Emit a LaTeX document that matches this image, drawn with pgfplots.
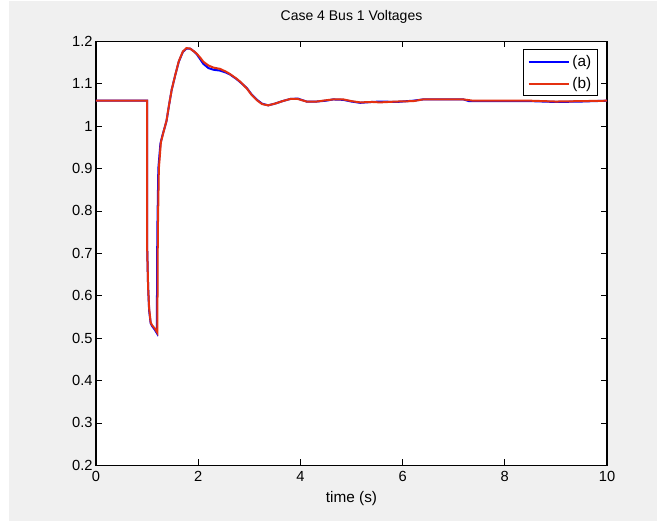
\documentclass[border=0pt]{standalone}
\usepackage{pgfplots}
\pgfplotsset{compat=1.18}
\usepackage{fontspec}
\setmainfont{Liberation Sans}
\definecolor{figbg}{RGB}{240,240,240}
\definecolor{mblue}{RGB}{0,0,255}
\definecolor{mred}{RGB}{228,48,16}
\begin{document}
\begin{tikzpicture}[x=0.75pt,y=0.75pt]
\fill[white] (0,0) rectangle (657,522);
\fill[figbg] (9,1) rectangle (657,521);
\begin{axis}[
  at={(72pt,42.5pt)}, anchor=south west,
  scale only axis, width=383.25pt, height=318pt,
  xmin=0, xmax=10, ymin=0.2, ymax=1.2,
  xtick={0,2,...,10}, ytick={0.2,0.3,...,1.21},
  yticklabels={0.2,0.3,0.4,0.5,0.6,0.7,0.8,0.9,1,1.1,1.2},
  tick align=inside, major tick length=4.5pt,
  tick style={black, line width=0.6pt},
  axis line style={black, line width=1pt},
  axis background/.style={fill=white},
  /pgf/number format/assume math mode=true,
  tick label style={font=\fontsize{11}{13}\selectfont},
  xticklabel style={yshift=-1pt},
  yticklabel style={xshift=1pt},
  title={Case 4 Bus 1 Voltages},
  title style={at={(0.5,1)}, anchor=base, yshift=9.75pt, font=\fontsize{10.5}{12}\selectfont},
  xlabel={time (s)},
  xlabel style={at={(0.5,0)}, anchor=base, yshift=-27.5pt, font=\fontsize{11.5}{13}\selectfont},
  legend style={at={(1,1)}, anchor=north east, xshift=-6.5pt, yshift=-6pt,
    draw=black, line width=0.8pt, fill=white, inner xsep=3pt, inner ysep=2pt,
    font=\fontsize{11.5}{13}\selectfont, row sep=2.5pt},
  legend cell align=left,
  legend image code/.code={\draw[#1, line width=1.5pt] (0pt,0pt) -- (30pt,0pt);},
]
\addplot[mblue, line width=1.5pt] coordinates {
(0,1.06) (1.0,1.06) (1.0,0.72) (1.02,0.62) (1.04,0.565) (1.07,0.535) (1.1,0.528)
(1.15,0.52) (1.19,0.512) (1.2,0.75) (1.22,0.9) (1.26,0.958) (1.3,0.978) (1.38,1.012)
(1.43,1.05) (1.48,1.085) (1.55,1.12) (1.62,1.152) (1.7,1.175) (1.77,1.183) (1.84,1.183)
(1.92,1.176) (1.97,1.17) (2.05,1.156) (2.1,1.147) (2.2,1.137) (2.3,1.133) (2.43,1.131)
(2.55,1.126) (2.62,1.122) (2.75,1.111) (2.82,1.104) (2.95,1.09) (3.05,1.074) (3.15,1.062)
(3.25,1.053) (3.37,1.049) (3.5,1.053) (3.65,1.059) (3.8,1.064) (3.95,1.065) (4.12,1.058)
(4.32,1.058) (4.5,1.060) (4.64,1.063) (4.84,1.062) (5.0,1.058) (5.17,1.055) (5.4,1.057)
(5.56,1.058) (5.88,1.057) (6.21,1.060) (6.4,1.063) (7.19,1.063) (7.3,1.059) (8.5,1.059)
(9.0,1.057) (9.5,1.058) (10,1.06)
};
\addlegendentry{(a)}
\addplot[mred, line width=1.5pt] coordinates {
(0,1.06) (1.0,1.06) (1.0,0.72) (1.02,0.62) (1.04,0.57) (1.07,0.537) (1.1,0.53)
(1.15,0.523) (1.2,0.513) (1.21,0.75) (1.23,0.9) (1.27,0.962) (1.31,0.981) (1.38,1.013)
(1.43,1.05) (1.48,1.085) (1.55,1.12) (1.62,1.153) (1.7,1.176) (1.77,1.184) (1.84,1.183)
(1.92,1.176) (1.97,1.171) (2.05,1.16) (2.1,1.152) (2.2,1.143) (2.3,1.138) (2.43,1.135)
(2.55,1.128) (2.62,1.123) (2.75,1.112) (2.82,1.105) (2.95,1.089) (3.05,1.073) (3.15,1.061)
(3.25,1.052) (3.37,1.049) (3.5,1.053) (3.65,1.059) (3.8,1.064) (3.95,1.064) (4.12,1.058)
(4.32,1.058) (4.5,1.061) (4.64,1.063) (4.84,1.063) (5.0,1.059) (5.17,1.056) (5.4,1.057)
(5.56,1.056) (5.88,1.058) (6.21,1.059) (6.4,1.063) (7.19,1.063) (7.38,1.060) (8.5,1.060)
(9.0,1.058) (9.5,1.059) (10,1.06)
};
\addlegendentry{(b)}
\end{axis}
\end{tikzpicture}
\end{document}
